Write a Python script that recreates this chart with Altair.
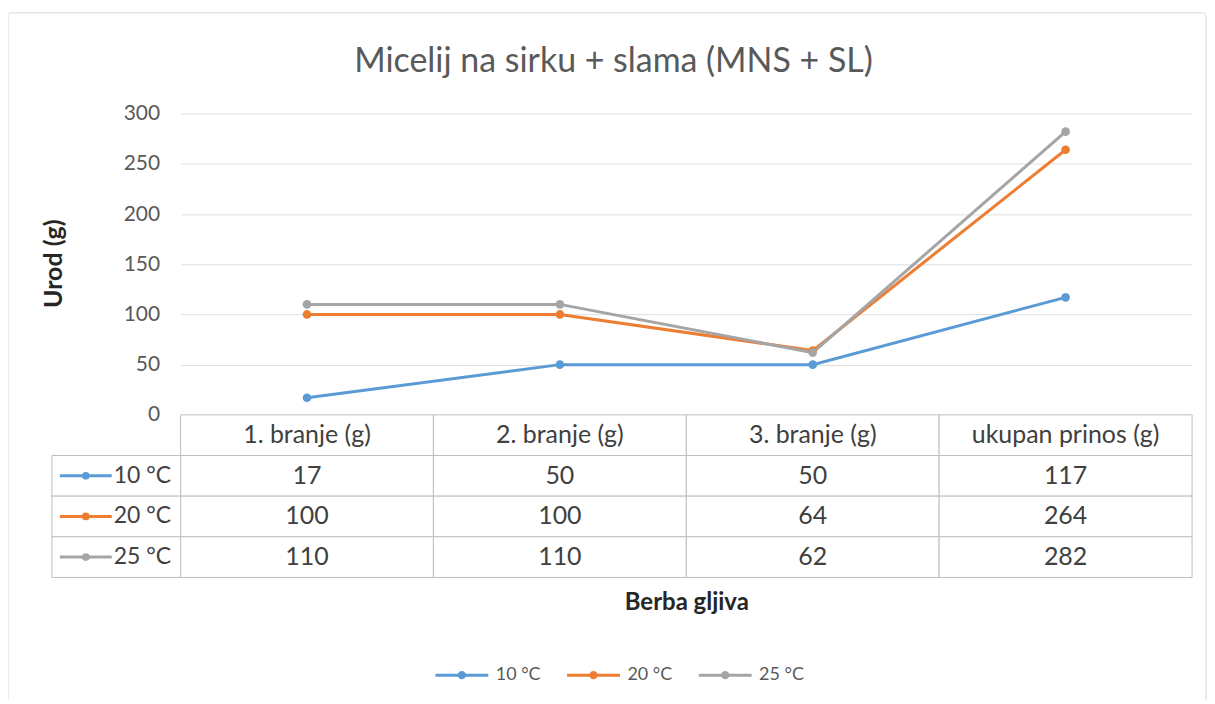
import altair as alt
import pandas as pd

categories = ["1. branje (g)", "2. branje (g)", "3. branje (g)", "ukupan prinos (g)"]
series = ["10 °C", "20 °C", "25 °C"]
v10 = [17, 50, 50, 117]
v20 = [100, 100, 64, 264]
v25 = [110, 110, 62, 282]
colors = ["#5B9BD5", "#ED7D31", "#A5A5A5"]
y_ticks = [0, 50, 100, 150, 200, 250, 300]

rows = []
for s, vals in zip(series, [v10, v20, v25]):
    for c, v in zip(categories, vals):
        rows.append({"cat": c, "series": s, "value": v, "label": str(v)})
df = pd.DataFrame(rows)
hdr = pd.DataFrame({"cat": categories, "row": ["hdr"] * 4, "label": categories})
df["row"] = df["series"]
ser_df = pd.DataFrame({"series": series, "row": series})

FONT = "Lato"
W, H = 1014, 465
PLOT_H = 302
row_domain = ["hdr"] + series
TXT = "#404040"

x_axis = alt.Axis(title="Berba gljiva", labels=False, ticks=False, domain=False, grid=False,
                  titleFont=FONT, titleFontSize=24, titleFontWeight="bold", titleColor="#262626",
                  titleBaseline="middle", titleY=25)
xs = alt.X("cat:N", sort=categories, axis=x_axis,
           scale=alt.Scale(type="band", domain=categories, paddingInner=0, paddingOuter=0))
yq = alt.Y("value:Q", scale=alt.Scale(domain=[0, 300], range=[PLOT_H, 0], nice=False, zero=True),
           axis=alt.Axis(values=y_ticks, title="Urod (g)", grid=True, gridColor="#E0E0E0", domain=False,
                         ticks=False, labelFont=FONT, labelFontSize=21, labelColor="#595959", labelPadding=21,
                         titleFont=FONT, titleFontSize=25, titleFontWeight="bold", titleColor="#262626",
                         titleX=-127, titleY=150, titleBaseline="middle"))
yq_noaxis = alt.Y("value:Q", scale=alt.Scale(domain=[0, 300], range=[PLOT_H, 0], nice=False, zero=True), axis=None)
yrow = alt.Y("row:N", sort=row_domain, axis=None,
             scale=alt.Scale(type="band", domain=row_domain, range=[PLOT_H, H], paddingInner=0, paddingOuter=0))
legend = alt.Legend(title=None, orient="none", legendX=254, legendY=535, direction="horizontal",
                    symbolType="M -1 0 L 1 0 M -0.1 0 A 0.1 0.1 0 1 1 0.1 0 A 0.1 0.1 0 1 1 -0.1 0",
                    symbolSize=2809, symbolStrokeWidth=3, labelFont=FONT, labelFontSize=18,
                    labelColor="#595959", columnPadding=20, labelOffset=6)
color = alt.Color("series:N", scale=alt.Scale(domain=series, range=colors), legend=legend)

border = alt.Chart(pd.DataFrame({"a": [0]})).mark_rect(
    fill=None, fillOpacity=0, stroke="#D9D9D9", strokeWidth=1, cornerRadius=3).encode(
    x=alt.value(-173), x2=alt.value(1028), y=alt.value(-101), y2=alt.value(640))

lines = alt.Chart(df).mark_line(strokeWidth=3).encode(x=xs, y=yq, color=color, detail="series:N")
pts = alt.Chart(df).mark_circle(size=75, opacity=1).encode(x=xs, y=yq_noaxis, color=color)

cells = alt.Chart(df).mark_rect(fill="white", stroke="#BFBFBF", strokeWidth=1).encode(x=xs, y=yrow)
hcells = alt.Chart(hdr).mark_rect(fill="white", stroke="#BFBFBF", strokeWidth=1).encode(x=xs, y=yrow)
lcells = alt.Chart(ser_df).mark_rect(fill="white", stroke="#BFBFBF", strokeWidth=1).encode(
    x=alt.value(-129), x2=alt.value(0), y=yrow)
txt = alt.Chart(df).mark_text(font=FONT, fontSize=25, color=TXT).encode(x=xs, y=yrow, text="label:N")
htxt = alt.Chart(hdr).mark_text(font=FONT, fontSize=25, color=TXT).encode(x=xs, y=yrow, text="label:N")
swl = alt.Chart(ser_df).mark_rule(strokeWidth=3).encode(
    x=alt.value(-121), x2=alt.value(-69), y=yrow, color=color)
swp = alt.Chart(ser_df).mark_circle(size=60, opacity=1).encode(x=alt.value(-95), y=yrow, color=color)
stxt = alt.Chart(ser_df).mark_text(font=FONT, fontSize=23, color=TXT, align="left").encode(
    x=alt.value(-67), y=yrow, text="series:N")

chart = alt.layer(border, cells, hcells, lcells, txt, htxt, swl, swp, stxt, lines, pts).resolve_scale(
    y="independent").properties(
    width=W, height=H,
    background="white",
    title=alt.TitleParams("Micelij na sirku + slama (MNS + SL)", font=FONT, fontSize=34, fontWeight="normal",
                          color="#595959", anchor="middle", dx=-73, offset=-67),
    autosize=alt.AutoSizeParams(type="none"),
    padding={"left": 173, "top": 105, "right": 15, "bottom": 122},
).configure_view(strokeWidth=0, stroke=None).configure_axis(domain=False, ticks=False).configure_axisX(
    grid=False)

chart.save("out.html", embed_options={"renderer": "svg", "actions": False})
